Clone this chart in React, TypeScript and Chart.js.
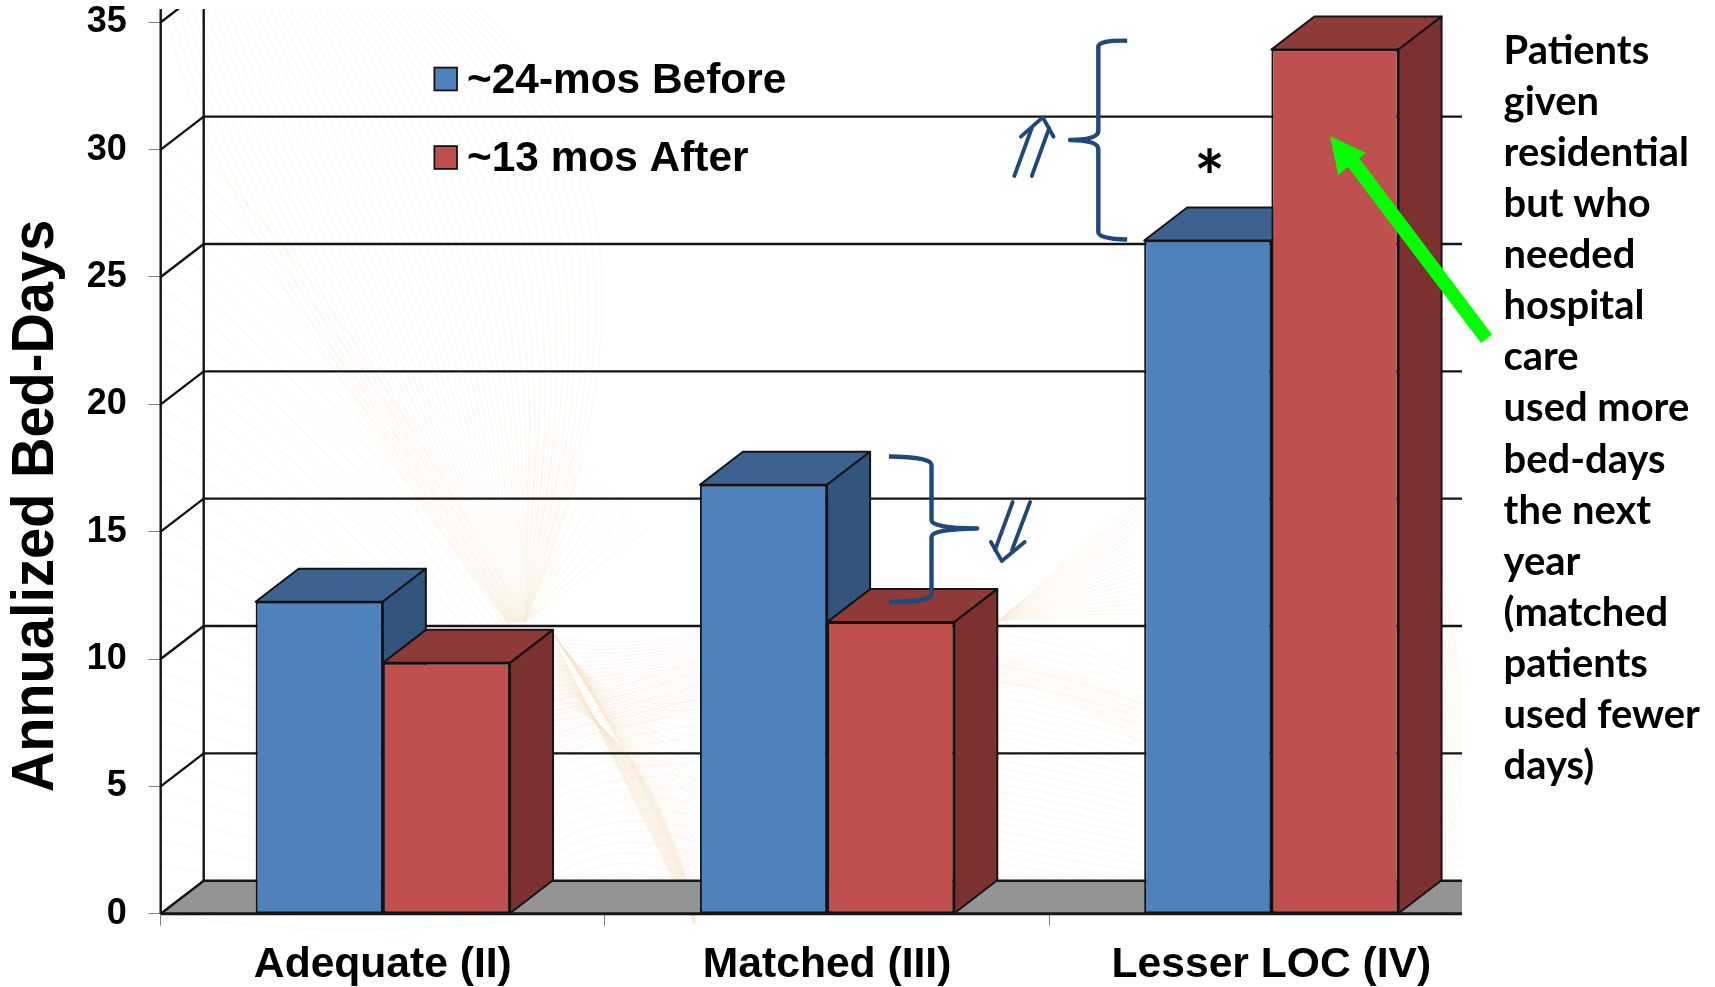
import React, { useEffect, useRef } from "react";
import { Chart, registerables } from "chart.js";

Chart.register(...registerables);

const categories = ["Adequate (II)", "Matched (III)", "Lesser LOC (IV)"];
const beforeLabel = "~24-mos Before";
const afterLabel = "~13 mos After";
const beforeValues = [12.25, 16.84, 26.43];
const afterValues = [9.85, 11.45, 33.93];
const yTitle = "Annualized Bed-Days";
const noteLines = [
  "Patients", "given", "residential", "but who", "needed", "hospital", "care",
  "used more", "bed-days", "the next", "year", "(matched", "patients", "used fewer", "days)",
];

const W = 1715;
const H = 987;
const AXIS_LEFT = 160.7;
const AXIS_BOTTOM = 913.7;
const PLOT_TOP = 22.3;
const PLOT_RIGHT = 1493.5;
const CROP_RIGHT = 1462;
const CROP_TOP = 9;
const DX = 43;
const DY = 33;
const SANS = '"Liberation Sans", Arial, sans-serif';
const NOTE_FONT = 'Lato, "Noto Sans", sans-serif';
const INK = "#141414";
const NAVY = "#1F497D";

const poly = (ctx: CanvasRenderingContext2D, pts: number[][], fill: string, stroke?: string) => {
  ctx.beginPath();
  pts.forEach((p, i) => (i ? ctx.lineTo(p[0], p[1]) : ctx.moveTo(p[0], p[1])));
  ctx.closePath();
  ctx.fillStyle = fill;
  ctx.fill();
  if (stroke) {
    ctx.strokeStyle = stroke;
    ctx.lineWidth = 2;
    ctx.lineJoin = "round";
    ctx.stroke();
  }
};

const seg = (ctx: CanvasRenderingContext2D, x0: number, y0: number, x1: number, y1: number) => {
  ctx.beginPath();
  ctx.moveTo(x0, y0);
  ctx.lineTo(x1, y1);
  ctx.stroke();
};

const curve = (ctx: CanvasRenderingContext2D, a: number, b: number, c: number, d: number, e: number, f: number) => {
  ctx.beginPath();
  ctx.moveTo(a, b);
  ctx.quadraticCurveTo(c, d, e, f);
  ctx.stroke();
};

const drawWatermark = (ctx: CanvasRenderingContext2D) => {
  ctx.save();
  ctx.beginPath();
  ctx.rect(AXIS_LEFT - 2, CROP_TOP, CROP_RIGHT - AXIS_LEFT + 2, 930 - CROP_TOP);
  ctx.clip();
  ctx.lineCap = "butt";
  // sparse hatch over the left side, falling to the right
  ctx.lineWidth = 1.2;
  ctx.strokeStyle = "rgba(248,232,208,0.32)";
  for (let i = 0; i < 46; i++) {
    const sx = 165 + i * 7;
    curve(ctx, sx, CROP_TOP, sx + 40 + i * 4, 210, 525 - (46 - i) * 0.4, 622);
  }
  for (let i = 0; i < 34; i++) {
    const sy = 120 + i * 24;
    curve(ctx, 162, sy, 320, sy + 130 - i * 3, 525, Math.min(930, 622 + i * 9));
  }
  // rays above the pinch
  for (let i = 0; i < 14; i++) {
    seg(ctx, 525, 622, 530 + i * 9, 400 + i * 10);
  }
  // crossing bands right of the pinch
  ctx.strokeStyle = "rgba(247,230,205,0.3)";
  for (let i = 0; i < 26; i++) {
    curve(ctx, 553, 636 + i * 5, 620, 650 + i * 3, 700, 632 + i * 3);
    curve(ctx, 553, 633, 610 + i * 2, 720 + i * 3, 697, 700 + i * 9);
    curve(ctx, 553, 638 + i * 2.5, 625 + i, 780 - i * 2, 695, 925 - i * 0.5);
  }
  for (let i = 0; i < 20; i++) {
    curve(ctx, 553, 700 + i * 11, 620, 690 + i * 9, 697, 660 + i * 13);
  }
  // right-hand fan rising from the middle bar
  ctx.strokeStyle = "rgba(248,232,210,0.32)";
  for (let i = 0; i < 24; i++) {
    const t = i / 23;
    curve(ctx, 998, 621, 1070, 560 + t * 55, 1143, 494 + t * 126);
  }
  // shallow waves on the right
  for (let i = 0; i < 34; i++) {
    const t = i / 33;
    curve(ctx, 998, 626 + t * 260, 1070, 636 + t * 265, 1143, 668 + t * 240);
  }
  for (let i = 0; i < 12; i++) {
    curve(ctx, 998, 660 + i * 2, 1070, 668 + i * 2, 1143, 706 + i * 3.5);
  }
  for (let i = 0; i < 30; i++) {
    const t = i / 29;
    curve(ctx, 1440, 560 + t * 360, 1450, 600 + t * 320, 1464, 700 + t * 200);
  }
  ctx.restore();
};

const depthPlugin = {
  id: "depthPlugin",
  beforeDraw(chart: any) {
    const { ctx } = chart;
    ctx.save();
    ctx.fillStyle = "#ffffff";
    ctx.fillRect(0, 0, W, H);
    ctx.restore();
  },
  beforeDatasetsDraw(chart: any) {
    const { ctx, scales } = chart;
    const y = scales.y;
    const zero = y.getPixelForValue(0);
    drawWatermark(ctx);

    ctx.save();
    ctx.beginPath();
    ctx.rect(0, CROP_TOP, CROP_RIGHT, H);
    ctx.clip();

    // floor
    poly(ctx, [[AXIS_LEFT, zero], [AXIS_LEFT + DX, zero - DY], [PLOT_RIGHT + DX, zero - DY], [PLOT_RIGHT, zero]], "#949494");

    // walls and gridlines
    ctx.strokeStyle = INK;
    ctx.lineWidth = 2.4;
    y.ticks.forEach((t: any) => {
      const py = y.getPixelForValue(t.value);
      seg(ctx, AXIS_LEFT, py, AXIS_LEFT + DX, py - DY);
      seg(ctx, AXIS_LEFT + DX, py - DY, PLOT_RIGHT + DX, py - DY);
    });
    seg(ctx, AXIS_LEFT, CROP_TOP, AXIS_LEFT, zero);
    seg(ctx, AXIS_LEFT + DX, 0, AXIS_LEFT + DX, zero - DY);

    // extruded faces of the bars
    const faces = [
      { top: "#3E6290", side: "#33547C" },
      { top: "#8E3A39", side: "#7C3030" },
    ];
    [0, 1].forEach((d) => {
      chart.getDatasetMeta(d).data.forEach((bar: any) => {
        const l = bar.x - bar.width / 2;
        const r = bar.x + bar.width / 2;
        const t = bar.y;
        const b = bar.base;
        poly(ctx, [[l, t], [l + DX, t - DY], [r + DX, t - DY], [r, t]], faces[d].top, INK);
        poly(ctx, [[r, t], [r + DX, t - DY], [r + DX, b - DY], [r, b]], faces[d].side, INK);
      });
    });
    ctx.restore();
  },
  afterDatasetsDraw(chart: any) {
    const { ctx, scales, data } = chart;
    const zero = scales.y.getPixelForValue(0);

    // front floor edge
    ctx.save();
    ctx.strokeStyle = INK;
    ctx.lineWidth = 3;
    seg(ctx, AXIS_LEFT, zero, CROP_RIGHT, zero);
    ctx.restore();

    // axis title
    ctx.save();
    ctx.translate(37, 506);
    ctx.rotate(-Math.PI / 2);
    ctx.scale(1, 1.06);
    ctx.font = `bold 56px ${SANS}`;
    ctx.fillStyle = "#000";
    ctx.textAlign = "center";
    ctx.textBaseline = "middle";
    ctx.fillText(yTitle, 0, 0);
    ctx.restore();

    // legend
    ctx.save();
    const rows = [
      { y: 79, i: 0 },
      { y: 157.5, i: 1 },
    ];
    rows.forEach(({ y, i }) => {
      const ds = data.datasets[i];
      ctx.fillStyle = ds.backgroundColor;
      ctx.fillRect(434.4, y - 11.4, 22.6, 22.8);
      ctx.strokeStyle = INK;
      ctx.lineWidth = 1.8;
      ctx.strokeRect(434.4, y - 11.4, 22.6, 22.8);
      ctx.fillStyle = "#000";
      ctx.font = `bold 42.4px ${SANS}`;
      ctx.textAlign = "left";
      ctx.textBaseline = "middle";
      ctx.fillText(ds.label, 467, y + 2);
    });
    ctx.restore();

    // braces
    ctx.save();
    ctx.strokeStyle = NAVY;
    ctx.lineWidth = 4.4;
    ctx.lineCap = "butt";
    ctx.lineJoin = "round";
    ctx.beginPath();
    ctx.moveTo(1127.2, 40.7);
    ctx.quadraticCurveTo(1098.3, 40, 1098.3, 47);
    ctx.lineTo(1098.3, 131);
    ctx.quadraticCurveTo(1098.3, 139.5, 1070, 140);
    ctx.quadraticCurveTo(1098.3, 140.5, 1098.3, 149);
    ctx.lineTo(1098.3, 232);
    ctx.quadraticCurveTo(1098.3, 239, 1127.2, 239.5);
    ctx.stroke();
    ctx.beginPath();
    ctx.moveTo(888.9, 456.5);
    ctx.quadraticCurveTo(931.5, 457, 931.5, 465);
    ctx.lineTo(931.5, 520);
    ctx.quadraticCurveTo(931.5, 528, 977.2, 528.5);
    ctx.quadraticCurveTo(931.5, 529, 931.5, 537);
    ctx.lineTo(931.5, 594);
    ctx.quadraticCurveTo(931.5, 602, 888.9, 602);
    ctx.stroke();

    // double arrows
    ctx.lineWidth = 3.8;
    ctx.lineCap = "round";
    seg(ctx, 1014.3, 176, 1031.8, 128);
    seg(ctx, 1031.8, 176, 1049.2, 128);
    ctx.beginPath();
    ctx.moveTo(1020.9, 136.7);
    ctx.lineTo(1042.7, 117.3);
    ctx.lineTo(1053.6, 136.7);
    ctx.stroke();
    seg(ctx, 1012.7, 502, 995, 550);
    seg(ctx, 1030.1, 502, 1012, 550);
    ctx.beginPath();
    ctx.moveTo(990.9, 542);
    ctx.lineTo(1001.8, 561);
    ctx.lineTo(1024.7, 542);
    ctx.stroke();
    ctx.restore();

    // asterisk
    ctx.save();
    ctx.fillStyle = "#000";
    ctx.font = `bold 72px ${NOTE_FONT}`;
    ctx.textAlign = "center";
    ctx.textBaseline = "alphabetic";
    ctx.fillText("*", 1209.5, 204);
    ctx.restore();

    // green arrow
    ctx.save();
    poly(ctx, [
      [1330, 136], [1366, 153], [1359, 158], [1492, 334.5], [1481, 343], [1348, 167], [1338.2, 175],
    ], "#00FF00");
    ctx.restore();

    // note
    ctx.save();
    ctx.fillStyle = "#000";
    ctx.font = `bold 39.9px ${NOTE_FONT}`;
    ctx.textAlign = "left";
    ctx.textBaseline = "alphabetic";
    noteLines.forEach((line, i) => ctx.fillText(line, 1503.6, 63.7 + i * 51.1));
    ctx.restore();
  },
};

export default function App() {
  const ref = useRef<HTMLCanvasElement | null>(null);
  useEffect(() => {
    const chart = new Chart(ref.current as HTMLCanvasElement, {
      type: "bar",
      data: {
        labels: categories,
        datasets: [
          {
            label: beforeLabel,
            data: beforeValues,
            backgroundColor: "#4F81BD",
            borderColor: INK,
            borderWidth: 2,
            borderSkipped: false,
            categoryPercentage: 254.4 / 444.3,
            barPercentage: 1,
          },
          {
            label: afterLabel,
            data: afterValues,
            backgroundColor: "#C0504D",
            borderColor: INK,
            borderWidth: 2,
            borderSkipped: false,
            categoryPercentage: 254.4 / 444.3,
            barPercentage: 1,
          },
        ],
      },
      options: {
        responsive: false,
        animation: false,
        devicePixelRatio: 1,
        layout: { padding: { top: PLOT_TOP, right: W - PLOT_RIGHT, left: 0, bottom: 0 } },
        plugins: { legend: { display: false }, tooltip: { enabled: false }, title: { display: false } },
        scales: {
          x: {
            afterFit: (s: any) => {
              s.height = H - AXIS_BOTTOM;
              s.paddingLeft = 0;
              s.paddingRight = 0;
            },
            border: { display: false },
            grid: {
              drawOnChartArea: false,
              tickLength: 12,
              tickWidth: 1,
              color: (c: any) => (c.tick ? "#808080" : "rgba(0,0,0,0)"),
            },
            ticks: {
              autoSkip: false,
              maxRotation: 0,
              padding: 14,
              color: "#000",
              font: { family: SANS, weight: "bold", size: 42.6 },
            },
          },
          y: {
            min: 0,
            max: 35,
            afterFit: (s: any) => {
              s.width = AXIS_LEFT;
              s.paddingTop = 0;
              s.paddingBottom = 0;
            },
            border: { display: false },
            grid: { drawOnChartArea: false, tickLength: 12, tickWidth: 1, color: "#808080" },
            ticks: {
              stepSize: 5,
              padding: 22,
              color: "#000",
              font: { family: SANS, weight: "bold", size: 36 },
            },
          },
        },
      },
      plugins: [depthPlugin],
    } as any);
    return () => chart.destroy();
  }, []);
  return (
    <canvas
      ref={ref}
      width={W}
      height={H}
      style={{ position: "fixed", left: 0, top: 0, width: W, height: H, display: "block" }}
    />
  );
}
